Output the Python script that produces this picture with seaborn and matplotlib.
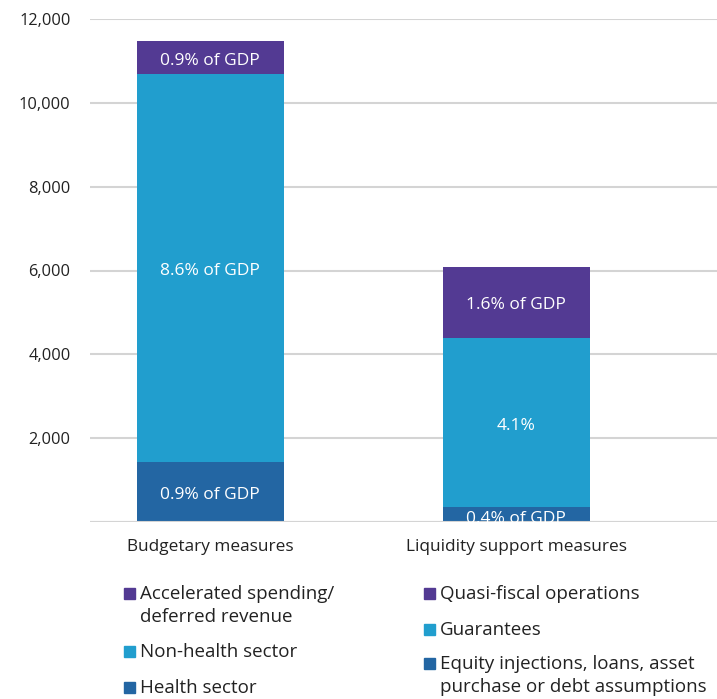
import matplotlib
matplotlib.use("Agg")
import matplotlib.pyplot as plt
from matplotlib.patches import Rectangle
from matplotlib.transforms import offset_copy
import seaborn as sns
import pandas as pd

# Fiscal response measures, billions (stacked from the bottom up)
categories = ["Budgetary measures", "Liquidity support measures"]
bottom_vals = [1430, 360]      # Health sector / Equity injections, loans, ...
middle_vals = [9260, 4020]     # Non-health sector / Guarantees
top_vals = [780, 1715]         # Accelerated spending / Quasi-fiscal operations

bottom_labels = ["0.9% of GDP", "0.4% of GDP"]
middle_labels = ["8.6% of GDP", "4.1%"]
top_labels = ["0.9% of GDP", "1.6% of GDP"]

yticks = [2000, 4000, 6000, 8000, 10000, 12000]

legend_left = ["Accelerated spending/\ndeferred revenue", "Non-health sector", "Health sector"]
legend_right = ["Quasi-fiscal operations", "Guarantees",
                "Equity injections, loans, asset\npurchase or debt assumptions"]

c_top = "#533A93"
c_mid = "#219ECE"
c_bot = "#2366A3"
text_c = "#222222"
grid_c = "#D4D4D4"

sns.set_theme(style="white")
plt.rcParams["font.family"] = ["Open Sans", "DejaVu Sans"]

fig = plt.figure(figsize=(7.17, 6.99), dpi=100)
ax = fig.add_axes([90 / 717, 1 - 522 / 699, 627 / 717, 503 / 699])

df = pd.DataFrame({
    "category": categories,
    "bottom": bottom_vals,
    "middle": middle_vals,
    "top": top_vals,
})
df["c1"] = df["bottom"]
df["c2"] = df["bottom"] + df["middle"]
df["c3"] = df["c2"] + df["top"]

for ypos in [0] + yticks:
    ax.axhline(ypos, color=grid_c, lw=1.5, zorder=0)

bw = 0.48
for col, color in [("c3", c_top), ("c2", c_mid), ("c1", c_bot)]:
    sns.barplot(data=df, x="category", y=col, color=color, width=bw,
                saturation=1, ax=ax, zorder=2, linewidth=0)

# segment labels at each segment's centre, nudged down a few pixels
lab_tr = offset_copy(ax.transData, fig=fig, x=0, y=-3, units="dots")
small_tr = offset_copy(ax.transData, fig=fig, x=0, y=-5, units="dots")
for i in range(len(categories)):
    b = df["c1"][i]
    m = df["c2"][i]
    t = df["c3"][i]
    for lab, y in [(bottom_labels[i], b / 2), (middle_labels[i], (b + m) / 2),
                   (top_labels[i], (m + t) / 2)]:
        tr = lab_tr if y > 300 else small_tr
        ax.text(i, y, lab, ha="center", va="center", color="white",
                fontsize=12.5, zorder=3, transform=tr)

ax.axhline(0, color=grid_c, lw=1.5, zorder=2.5)

ax.set_xlim(-0.392, 1.655)
ax.set_ylim(0, 12000)
ax.set_yticks(yticks)
ax.set_yticklabels([f"{v:,}" for v in yticks], fontsize=11.8, color=text_c)
ax.set_xticks(range(len(categories)))
ax.set_xticklabels(categories, fontsize=12.4, color=text_c)
ax.tick_params(axis="y", length=0, pad=14)
ax.tick_params(axis="x", length=0, pad=12)
ax.set_xlabel("")
ax.set_ylabel("")
for s in ax.spines.values():
    s.set_visible(False)

# legend drawn in figure pixels
def fy(py):
    return 1 - py / 699

sq = 11
def legend_item(px, py, color, label):
    fig.patches.append(Rectangle((px / 717, fy(py + sq / 2)), sq / 717, sq / 699,
                                 transform=fig.transFigure, color=color,
                                 figure=fig))
    fig.text((px + 16) / 717, fy(py - 8), label, ha="left", va="top",
             fontsize=13.5, color=text_c, linespacing=1.38)

legend_item(124, 593, c_top, legend_left[0])
legend_item(124, 651, c_mid, legend_left[1])
legend_item(124, 687, c_bot, legend_left[2])
legend_item(424, 593, c_top, legend_right[0])
legend_item(424, 629, c_mid, legend_right[1])
legend_item(424, 663, c_bot, legend_right[2])

fig.savefig("out.png", dpi=100, facecolor="white")
